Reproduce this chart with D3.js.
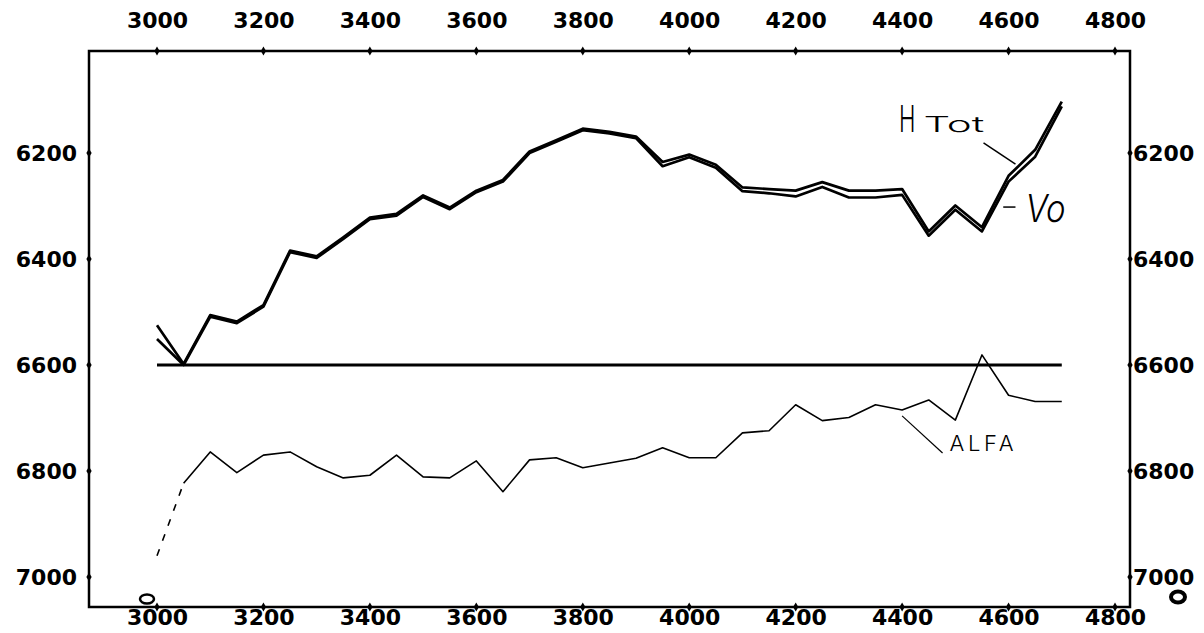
<!DOCTYPE html>
<html>
<head>
<meta charset="utf-8">
<script src="https://cdn.jsdelivr.net/npm/d3@7"></script>
<style>
  body { margin: 0; background: #fff; }
  .tick text { font-family: "DejaVu Sans", sans-serif; font-weight: bold; font-size: 22px; fill: #000; }
  .note { font-family: "Inter", "Liberation Sans", sans-serif; font-weight: 300; fill: #000; }
</style>
</head>
<body>
<svg id="chart" width="1204" height="633"></svg>
<script>
// x positions of the readings
const depth = [3000, 3050, 3100, 3150, 3200, 3250, 3300, 3350, 3400, 3450,
  3500, 3550, 3600, 3650, 3700, 3750, 3800, 3850, 3900, 3950,
  4000, 4050, 4100, 4150, 4200, 4250, 4300, 4350, 4400, 4450,
  4500, 4550, 4600, 4650, 4700];

const hTot = [6525, 6598, 6506, 6518, 6487, 6384, 6395, 6359, 6322, 6315,
  6280, 6303, 6271, 6251, 6197, 6176, 6154, 6160, 6169, 6217,
  6203, 6222, 6265, 6268, 6271, 6255, 6271, 6271, 6268, 6348,
  6299, 6340, 6243, 6194, 6103];

const vO = [6551, 6600, 6509, 6521, 6490, 6387, 6398, 6362, 6325, 6318,
  6283, 6306, 6274, 6254, 6200, 6179, 6157, 6163, 6172, 6225,
  6208, 6228, 6272, 6276, 6282, 6264, 6284, 6284, 6279, 6356,
  6307, 6348, 6254, 6207, 6112];

const alfa = [6960, 6823, 6764, 6803, 6770, 6764, 6792, 6813, 6808, 6770,
  6811, 6813, 6781, 6839, 6779, 6775, 6794, 6785, 6776, 6756,
  6775, 6775, 6728, 6724, 6675, 6705, 6699, 6675, 6685, 6666,
  6704, 6581, 6657, 6669, 6669];

// reference level
const refX = [3000, 4700];
const refY = [6600, 6600];

const xTicks = [3000, 3200, 3400, 3600, 3800, 4000, 4200, 4400, 4600, 4800];
const yTicks = [6200, 6400, 6600, 6800, 7000];

const CONFIG = {
  frame: { left: 89, right: 1130, top: 51, bottom: 607 }
};

const svg = d3.select("#chart");

const x = d3.scaleLinear().domain([3000, 4800]).range([157, 1115]);
const y = d3.scaleLinear().domain([6200, 7000]).range([153, 577]);

function drawFrame() {
  const f = CONFIG.frame;
  svg.append("rect")
    .attr("x", f.left)
    .attr("y", f.top)
    .attr("width", f.right - f.left)
    .attr("height", f.bottom - f.top)
    .attr("fill", "none")
    .attr("stroke", "#000")
    .attr("stroke-width", 2.5);

  // tick labels
  svg.append("g")
    .attr("transform", "translate(0," + f.top + ")")
    .call(d3.axisTop(x).tickValues(xTicks).tickSize(0).tickPadding(23).tickFormat(d3.format("d")))
    .call(g => g.select(".domain").remove());

  svg.append("g")
    .attr("transform", "translate(0," + f.bottom + ")")
    .call(d3.axisBottom(x).tickValues(xTicks).tickSize(0).tickPadding(2).tickFormat(d3.format("d")))
    .call(g => g.select(".domain").remove());

  svg.append("g")
    .attr("transform", "translate(" + f.left + ",0)")
    .call(d3.axisLeft(y).tickValues(yTicks).tickSize(0).tickPadding(12).tickFormat(d3.format("d")))
    .call(g => g.select(".domain").remove());

  svg.append("g")
    .attr("transform", "translate(" + f.right + ",0)")
    .call(d3.axisRight(y).tickValues(yTicks).tickSize(0).tickPadding(3).tickFormat(d3.format("d")))
    .call(g => g.select(".domain").remove());

  // small diamond tick marks on the frame
  const diamond = d3.symbol().type(d3.symbolDiamond).size(24);
  [f.top, f.bottom].forEach(yy => {
    svg.append("g").selectAll("path")
      .data(xTicks)
      .join("path")
      .attr("d", diamond)
      .attr("transform", d => "translate(" + x(d) + "," + yy + ")");
  });
  [f.left, f.right].forEach(xx => {
    svg.append("g").selectAll("path")
      .data(yTicks)
      .join("path")
      .attr("d", diamond)
      .attr("transform", d => "translate(" + xx + "," + y(d) + ")");
  });

  // plotter marks in the corners
  svg.append("ellipse")
    .attr("cx", 147).attr("cy", 599).attr("rx", 7).attr("ry", 4.5)
    .attr("fill", "none").attr("stroke", "#000").attr("stroke-width", 2.5);
  svg.append("ellipse")
    .attr("cx", 1178).attr("cy", 597).attr("rx", 7).attr("ry", 5.5)
    .attr("fill", "none").attr("stroke", "#000").attr("stroke-width", 4);
}

function drawLines() {
  const line = d3.line()
    .x(d => x(d[0]))
    .y(d => y(d[1]));

  // reference level
  svg.append("path")
    .datum(d3.zip(refX, refY))
    .attr("d", line)
    .attr("fill", "none")
    .attr("stroke", "#000")
    .attr("stroke-width", 3);

  // ALFA, first segment dashed
  const alfaPts = d3.zip(depth, alfa);
  svg.append("path")
    .datum(alfaPts.slice(0, 2))
    .attr("d", line)
    .attr("fill", "none")
    .attr("stroke", "#000")
    .attr("stroke-width", 1.6)
    .attr("stroke-dasharray", "7,9");
  svg.append("path")
    .datum(alfaPts.slice(1))
    .attr("d", line)
    .attr("fill", "none")
    .attr("stroke", "#000")
    .attr("stroke-width", 1.6)
    .attr("stroke-linejoin", "round");

  // HTot and Vo
  [hTot, vO].forEach(series => {
    svg.append("path")
      .datum(d3.zip(depth, series))
      .attr("d", line)
      .attr("fill", "none")
      .attr("stroke", "#000")
      .attr("stroke-width", 2.7)
      .attr("stroke-linejoin", "round");
  });
}

function drawNotes() {
  const leader = (x1, y1, x2, y2, w) => svg.append("line")
    .attr("x1", x(x1)).attr("y1", y(y1))
    .attr("x2", x(x2)).attr("y2", y(y2))
    .attr("stroke", "#000")
    .attr("stroke-width", w);

  // HTot: narrow tall H, then smaller "Tot"
  leader(4553, 6181, 4613, 6221, 1.5);
  svg.append("text").classed("note", true)
    .attr("transform", "translate(" + x(4394) + "," + y(6160) + ") scale(0.6,1)")
    .attr("font-size", 37)
    .text("H");
  svg.append("text").classed("note", true)
    .attr("x", x(4440)).attr("y", y(6160))
    .attr("font-size", 21)
    .attr("textLength", 61).attr("lengthAdjust", "spacingAndGlyphs")
    .text("Tot");

  // Vo
  leader(4590, 6302, 4613, 6302, 1.5);
  svg.append("text").classed("note", true)
    .attr("x", x(4632)).attr("y", y(6330))
    .attr("font-size", 38)
    .attr("font-style", "italic")
    .attr("textLength", 40).attr("lengthAdjust", "spacingAndGlyphs")
    .text("Vo");

  // ALFA
  leader(4400, 6696, 4476, 6766, 1.2);
  svg.append("text").classed("note", true)
    .attr("x", x(4489)).attr("y", y(6762))
    .attr("font-size", 22)
    .attr("textLength", 64).attr("lengthAdjust", "spacing")
    .text("ALFA");
}

drawFrame();
drawLines();
drawNotes();
</script>
</body>
</html>
